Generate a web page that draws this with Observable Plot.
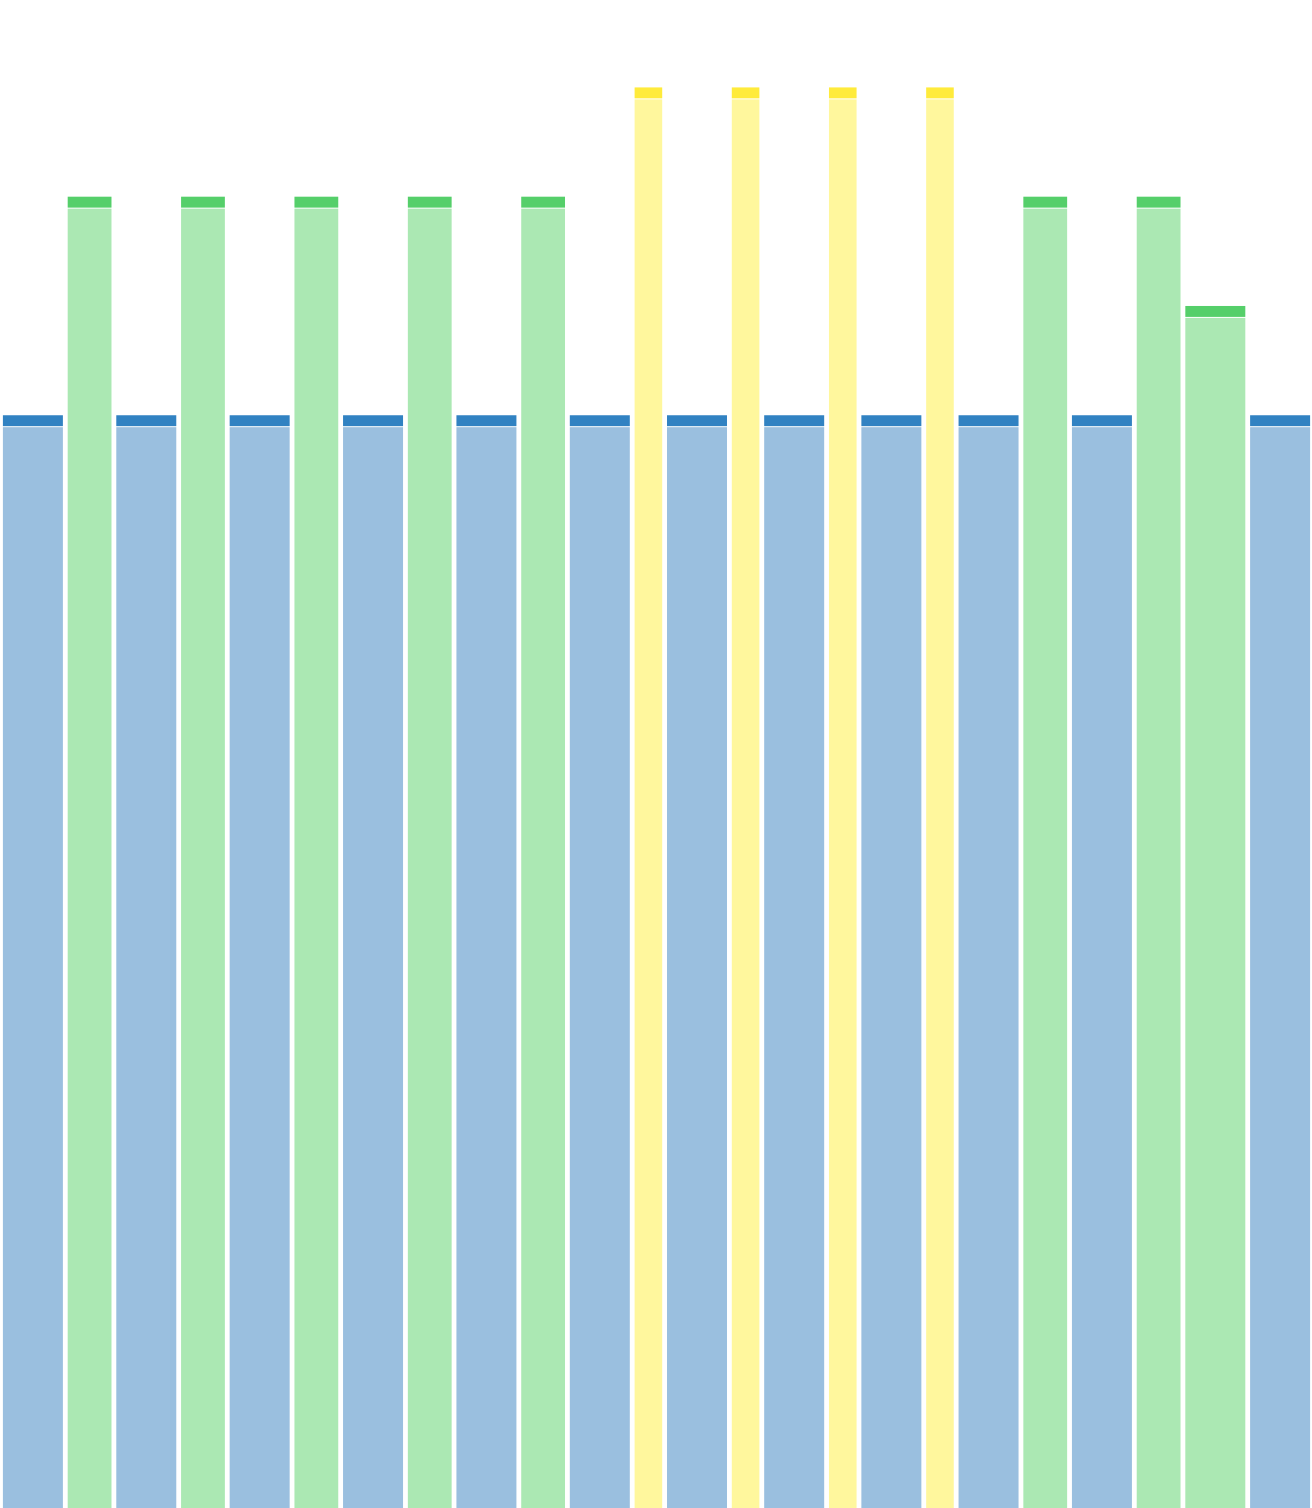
<!DOCTYPE html>
<html>
<head>
<meta charset="utf-8">
<script src="https://cdn.jsdelivr.net/npm/d3@7"></script>
<script src="https://cdn.jsdelivr.net/npm/@observablehq/plot@0.6"></script>
<style>
  html, body { margin: 0; padding: 0; background: #fff; }
  #chart svg { display: block; }
</style>
</head>
<body>
<div id="chart"></div>
<script>
// Data
const kinds  = ["blue","green","blue","green","blue","green","blue","green","blue","green","blue","yellow","blue","yellow","blue","yellow","blue","yellow","blue","green","blue","green","green","blue"];
const widths = [4,3,4,3,4,3,4,3,4,3,4,2,4,2,4,2,4,2,4,3,4,3,4,4];
const values = [10,12,10,12,10,12,10,12,10,12,10,13,10,13,10,13,10,13,10,12,10,12,11,10];
const capSize = 0.1;

// Styles
const bodyColors = {blue: "#9abfdf", green: "#abe8b3", yellow: "#fff79d"};
const capColors  = {blue: "#3182c2", green: "#55cf6a", yellow: "#ffeb3b"};

let acc = 0;
const rows = kinds.map((k, i) => {
  const x1 = acc; acc += widths[i];
  return {kind: k, x1, x2: acc, value: values[i]};
});
const total = acc;

const chart = Plot.plot({
  width: 1312,
  height: 1508,
  margin: 0,
  x: {domain: [0, total], range: [0.5, 1312.5], axis: null},
  y: {domain: [0, 13.8], axis: null},
  marks: [
    Plot.rectY(rows, {
      x1: "x1", x2: "x2", y1: 0, y2: d => d.value - capSize,
      fill: d => bodyColors[d.kind], insetLeft: 2.4, insetRight: 2.4, insetTop: 1
    }),
    Plot.rectY(rows, {
      x1: "x1", x2: "x2", y1: d => d.value - capSize, y2: "value",
      fill: d => capColors[d.kind], insetLeft: 2.4, insetRight: 2.4
    })
  ]
});
document.getElementById("chart").appendChild(chart);
</script>
</body>
</html>
